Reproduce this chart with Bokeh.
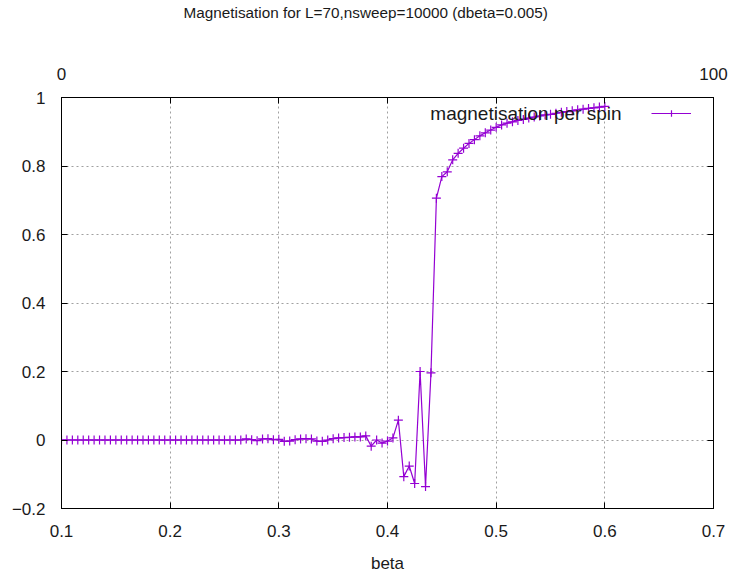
from bokeh.plotting import figure
from bokeh.models import (LinearAxis, Range1d, FixedTicker, Legend, LegendItem,
                          Label, ColumnDataSource, CustomJSTickFormatter,
                          CustomLabelingPolicy, Title)
from bokeh.embed import file_html
from bokeh.resources import INLINE

# Magnetisation per spin vs inverse temperature, L=70, 10000 sweeps, dbeta=0.005
dbeta = 0.005
magnetisation = (
    [0.0] * 34 +
    [0.003, 0.001, -0.002, 0.003, 0.004, 0.001, 0.002, -0.004, -0.003, 0.001,
     0.003, 0.004, 0.003, -0.003, -0.004, 0.000, 0.004, 0.006, 0.007, 0.008,
     0.009, 0.009, 0.012, -0.018, 0.000, -0.009, -0.003, 0.006, 0.058, -0.107,
     -0.076, -0.127, 0.200, -0.136, 0.196, 0.706, 0.769, 0.783, 0.818, 0.837,
     0.852, 0.866, 0.877, 0.888, 0.897, 0.905, 0.913, 0.920, 0.925, 0.929,
     0.933, 0.936, 0.940, 0.943, 0.946, 0.949, 0.951, 0.954, 0.957, 0.959,
     0.961, 0.964, 0.966, 0.968, 0.970, 0.972, 0.974]
)
beta = [round(0.1 + dbeta * i, 3) for i in range(len(magnetisation))]

x_ticks = [0.1, 0.2, 0.3, 0.4, 0.5, 0.6, 0.7]
y_ticks = [-0.2, 0, 0.2, 0.4, 0.6, 0.8, 1]
index_ticks = [i * 100 / 6 for i in range(7)]   # mirrors the beta ticks on the index scale
title_text = "Magnetisation for L=70,nsweep=10000 (dbeta=0.005)"

FONT = "Liberation Sans"
TEXT = "#1a1a1a"
PURPLE = "#9400d3"

p = figure(width=732, height=575, output_backend="svg", toolbar_location=None,
           x_range=Range1d(0.1, 0.7), y_range=Range1d(-0.2, 1.0),
           min_border_left=61, min_border_right=19, min_border_top=97,
           min_border_bottom=67, background_fill_color="white",
           border_fill_color="white")
p.title = None
p.extra_x_ranges = {"index": Range1d(0, 100)}

p.outline_line_color = "black"
p.outline_line_width = 1
p.outline_line_alpha = 1

# label policies: keep only the end labels / no labels at all
ends_only = CustomLabelingPolicy(
    code="for (const i of indices) { if (i == 0 || i == indices.size - 1) yield i }")
no_labels = CustomLabelingPolicy(code="for (const i of indices) { if (i < 0) yield i }")


def style_axis(ax, font_size="17px"):
    ax.axis_line_color = "black"
    ax.major_tick_line_color = "black"
    ax.major_tick_in = 6
    ax.major_tick_out = 0
    ax.minor_tick_line_color = None
    ax.major_label_text_font = FONT
    ax.major_label_text_color = TEXT
    ax.major_label_text_font_size = font_size


xa = p.xaxis[0]
xa.ticker = FixedTicker(ticks=x_ticks)
style_axis(xa)
xa.major_label_standoff = 16
xa.axis_label = "beta"
xa.axis_label_text_font = FONT
xa.axis_label_text_font_size = "17px"
xa.axis_label_text_font_style = "normal"
xa.axis_label_text_color = TEXT
xa.axis_label_standoff = 14

ya = p.yaxis[0]
ya.ticker = FixedTicker(ticks=y_ticks)
ya.major_label_overrides = {0: "0", 1: "1"}
style_axis(ya)
ya.major_label_standoff = 16

# mirrored tick marks on the right, unlabelled
right = LinearAxis(ticker=FixedTicker(ticks=y_ticks), major_label_policy=no_labels)
style_axis(right, font_size="1px")
right.major_label_standoff = 0
p.add_layout(right, "right")

# top axis: point index 0..100, labelled only at its ends
top = LinearAxis(x_range_name="index", ticker=FixedTicker(ticks=index_ticks),
                 formatter=CustomJSTickFormatter(code="return tick.toFixed(0);"),
                 major_label_policy=ends_only)
style_axis(top)
top.major_label_standoff = 18
p.add_layout(top, "above")

# empty band between the index axis and the heading (one invisible tick)
gap = LinearAxis(x_range_name="index", ticker=FixedTicker(ticks=[50]),
                 axis_line_color=None, major_tick_line_color=None,
                 minor_tick_line_color=None, major_tick_out=40,
                 minor_tick_out=0, major_tick_in=0, major_label_standoff=0,
                 major_label_text_font_size="1px", major_label_policy=no_labels)
p.add_layout(gap, "above")

# heading, left-anchored so it sits centred on the whole page
heading = Title(text=title_text, align="left", offset=122, standoff=0,
                text_font=FONT, text_font_size="15.3px",
                text_font_style="normal", text_color=TEXT)
p.add_layout(heading, "above")

p.xgrid.grid_line_color = "#a0a0a0"
p.xgrid.grid_line_dash = "2 3"
p.ygrid.grid_line_color = "#a0a0a0"
p.ygrid.grid_line_dash = "2 3"

src = ColumnDataSource(dict(beta=beta, m=magnetisation))
ln = p.line("beta", "m", source=src, line_color=PURPLE, line_width=1.2)
pts = p.scatter("beta", "m", source=src, marker="cross", size=9,
                line_color=PURPLE, line_width=1.2)

legend = Legend(items=[LegendItem(label=" ", renderers=[ln, pts])],
                location=(590, 387), glyph_width=40, glyph_height=16,
                padding=0, margin=0, spacing=0, label_standoff=0,
                label_width=0, border_line_color=None,
                background_fill_alpha=0)
p.add_layout(legend)
p.add_layout(Label(x=560, y=395, x_units="screen", y_units="screen",
                   text="magnetisation per spin", text_align="right",
                   text_baseline="middle", text_font=FONT,
                   text_font_size="19px", text_color=TEXT))

open("out.html", "w").write(file_html(p, INLINE))
